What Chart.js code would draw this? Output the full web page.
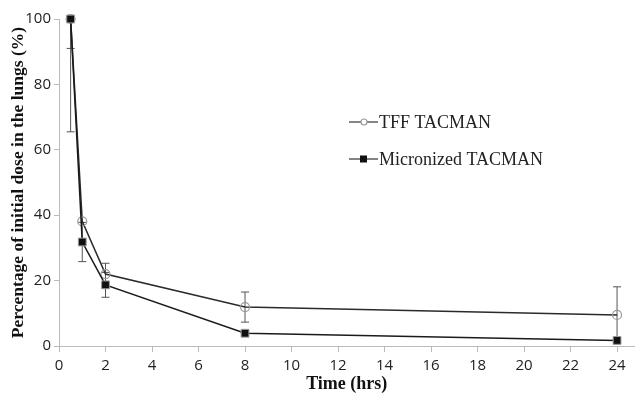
<!DOCTYPE html>
<html>
<head>
<meta charset="utf-8">
<script src="https://cdn.jsdelivr.net/npm/chart.js@4"></script>
<style>
  html, body { margin: 0; padding: 0; background: #fff; }
  #wrap { width: 641px; height: 395px; }
</style>
</head>
<body>
<div id="wrap"><canvas id="lungs"></canvas></div>
<script>
// time points (hrs)
const times = [0.5, 1, 2, 8, 24];
// TFF TACMAN, % of initial dose, and +/- error
const tffValues = [100, 38.1, 22, 11.9, 9.5];
const tffErrors = [34.5, 0, 3.3, 4.6, 8.6];
// Micronized TACMAN
const microValues = [100, 31.8, 18.7, 3.9, 1.7];
const microErrors = [9, 6, 3.8, 0, 0];

const xTicks = [0, 2, 4, 6, 8, 10, 12, 14, 16, 18, 20, 22, 24];
const yTicks = [0, 20, 40, 60, 80, 100];

const serif = "'Liberation Serif', 'Times New Roman', serif";
const sans = "'Open Sans', 'Liberation Sans', sans-serif";

function toPoints(vals) {
  return times.map((t, i) => ({ x: t, y: vals[i] }));
}

// vertical error bars drawn from the scales
const errorBars = {
  id: "errorBars",
  beforeDatasetsDraw(chart) {
    const { ctx, chartArea, scales } = chart;
    const sets = [tffErrors, microErrors];
    const vals = [tffValues, microValues];
    ctx.save();
    ctx.beginPath();
    ctx.rect(chartArea.left, chartArea.top - 1, chartArea.right - chartArea.left, chartArea.bottom - chartArea.top + 2);
    ctx.clip();
    ctx.strokeStyle = "#555";
    ctx.lineWidth = 1;
    sets.forEach((errs, s) => {
      errs.forEach((e, i) => {
        if (!e) return;
        const x = scales.x.getPixelForValue(times[i]);
        const y1 = scales.y.getPixelForValue(vals[s][i] + e);
        const y2 = scales.y.getPixelForValue(vals[s][i] - e);
        ctx.beginPath();
        ctx.moveTo(x, y1); ctx.lineTo(x, y2);
        ctx.moveTo(x - 4, y1); ctx.lineTo(x + 4, y1);
        ctx.moveTo(x - 4, y2); ctx.lineTo(x + 4, y2);
        ctx.stroke();
      });
    });
    ctx.restore();
  }
};

// legend inside the plot, as in the original
const innerLegend = {
  id: "innerLegend",
  afterDraw(chart) {
    const ctx = chart.ctx;
    const items = [
      { label: "TFF TACMAN", y: 122, marker: "circle" },
      { label: "Micronized TACMAN", y: 159, marker: "square" }
    ];
    ctx.save();
    items.forEach(it => {
      ctx.strokeStyle = "#333";
      ctx.lineWidth = 1.2;
      ctx.beginPath();
      ctx.moveTo(349, it.y); ctx.lineTo(378, it.y);
      ctx.stroke();
      if (it.marker === "circle") {
        ctx.fillStyle = "#fff";
        ctx.strokeStyle = "#999";
        ctx.beginPath();
        ctx.arc(364, it.y, 3, 0, Math.PI * 2);
        ctx.fill(); ctx.stroke();
      } else {
        ctx.fillStyle = "#111";
        ctx.fillRect(360, it.y - 3.5, 7, 7);
      }
      ctx.fillStyle = "#222";
      ctx.font = "18px " + serif;
      ctx.textBaseline = "middle";
      ctx.fillText(it.label, 379, it.y + 1);
    });
    ctx.restore();
  }
};

new Chart(document.getElementById("lungs"), {
  type: "scatter",
  data: {
    datasets: [
      {
        label: "TFF TACMAN",
        data: toPoints(tffValues),
        showLine: true,
        borderColor: "#2a2a2a",
        borderWidth: 1.5,
        pointStyle: "circle",
        pointRadius: 4.5,
        pointBorderColor: "#999",
        pointBackgroundColor: "rgba(255,255,255,0)",
        pointBorderWidth: 1.2,
        order: 2
      },
      {
        label: "Micronized TACMAN",
        data: toPoints(microValues),
        showLine: true,
        borderColor: "#1a1a1a",
        borderWidth: 1.5,
        pointStyle: "rect",
        pointRadius: 5.5,
        pointBorderColor: "#999",
        pointBackgroundColor: "#111",
        pointBorderWidth: 1,
        order: 1
      }
    ]
  },
  options: {
    responsive: true,
    maintainAspectRatio: false,
    animation: false,
    clip: false,
    layout: { padding: { top: 19, right: 0, left: 0, bottom: 0 } },
    plugins: {
      legend: { display: false },
      tooltip: { enabled: false }
    },
    scales: {
      x: {
        type: "linear",
        min: 0,
        max: 24.75,
        afterBuildTicks(scale) {
          scale.ticks = xTicks.map(v => ({ value: v }));
        },
        afterFit(scale) { scale.height = 49; },
        grid: { drawOnChartArea: false, tickLength: 6, color: "#bbb" },
        border: { color: "#bbb" },
        ticks: { color: "#222", font: { family: sans, size: 15 }, padding: 5, maxRotation: 0 },
        title: {
          display: true,
          text: "Time (hrs)",
          color: "#111",
          font: { family: serif, size: 18, weight: "bold" },
          padding: { top: 2, bottom: 0 }
        }
      },
      y: {
        min: 0,
        max: 100,
        afterBuildTicks(scale) {
          scale.ticks = yTicks.map(v => ({ value: v }));
        },
        afterFit(scale) { scale.width = 59; },
        grid: { drawOnChartArea: false, tickLength: 5, color: "#bbb" },
        border: { color: "#bbb" },
        ticks: { color: "#222", font: { family: sans, size: 15 }, padding: 3 },
        title: {
          display: true,
          text: "Percentage of initial dose in the lungs (%)",
          color: "#111",
          font: { family: serif, size: 17.5, weight: "bold" },
          padding: { top: 8, bottom: 0 }
        }
      }
    }
  },
  plugins: [errorBars, innerLegend]
});
</script>
</body>
</html>
